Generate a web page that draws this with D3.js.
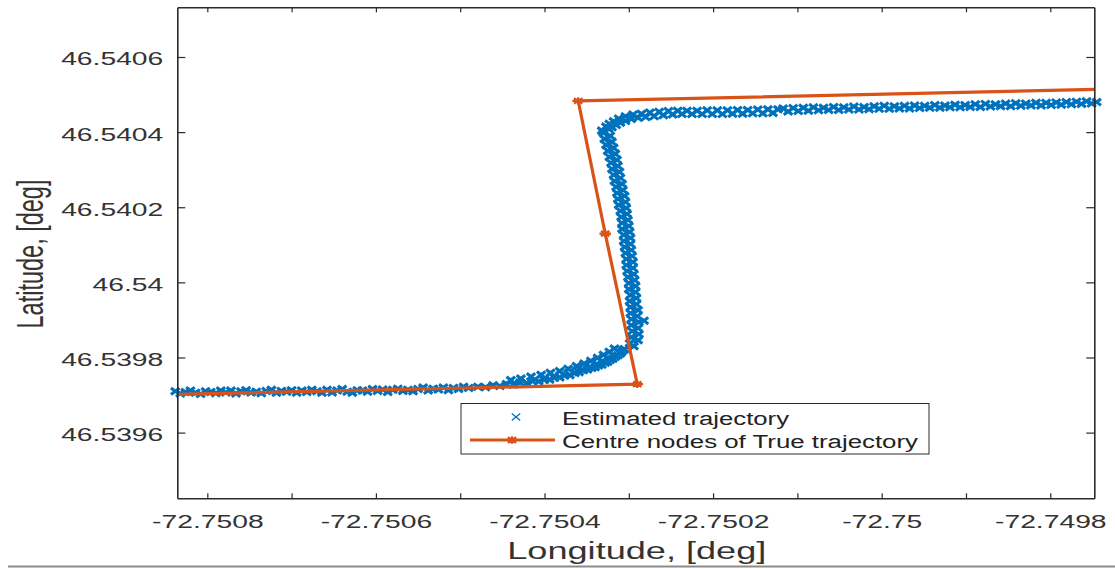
<!DOCTYPE html>
<html>
<head>
<meta charset="utf-8">
<script src="https://cdn.jsdelivr.net/npm/d3@7"></script>
<style>
  body { margin: 0; background: #fff; }
  svg { display: block; }
</style>
</head>
<body>
<svg id="chart" width="1115" height="569"></svg>
<script>
// ---- axis ticks ----
const xTicks = [-72.7508, -72.7507, -72.7506, -72.7505, -72.7504, -72.7503, -72.7502, -72.7501, -72.75, -72.7499, -72.7498];
const xTickLabels = ["-72.7508", "", "-72.7506", "", "-72.7504", "", "-72.7502", "", "-72.75", "", "-72.7498"];
const yTicks = [46.5396, 46.5398, 46.54, 46.5402, 46.5404, 46.5406];
const yTickLabels = ["46.5396", "46.5398", "46.54", "46.5402", "46.5404", "46.5406"];
const xDomain = [-72.7508356, -72.7497478];
const yDomain = [46.5394251, 46.5407323];

// ---- centre nodes of the true trajectory ----
const trueLon = [-72.750868, -72.750290, -72.750328, -72.750360, -72.749682];
const trueLat = [46.539700, 46.539729, 46.540130, 46.540483, 46.540517];

// ---- estimated trajectory [lon, lat] ----
const estWestLeg = [
  [-72.750838,46.539710],[-72.750832,46.539704],[-72.750826,46.539708],[-72.750820,46.539712],[-72.750814,46.539706],
  [-72.750808,46.539703],[-72.750802,46.539710],[-72.750796,46.539708],[-72.750790,46.539705],[-72.750784,46.539712],
  [-72.750778,46.539707],[-72.750772,46.539712],[-72.750766,46.539704],[-72.750760,46.539710],[-72.750754,46.539713],
  [-72.750748,46.539707],[-72.750742,46.539709],[-72.750736,46.539705],[-72.750730,46.539711],[-72.750724,46.539714],
  [-72.750718,46.539706],[-72.750712,46.539711],[-72.750706,46.539709],[-72.750700,46.539713],[-72.750694,46.539706],
  [-72.750688,46.539712],[-72.750682,46.539708],[-72.750676,46.539714],[-72.750670,46.539710],[-72.750664,46.539706],
  [-72.750658,46.539714],[-72.750652,46.539707],[-72.750646,46.539712],[-72.750640,46.539716],[-72.750634,46.539709],
  [-72.750628,46.539706],[-72.750622,46.539713],[-72.750616,46.539712],[-72.750610,46.539709],[-72.750604,46.539716],
  [-72.750598,46.539711],[-72.750592,46.539715],[-72.750586,46.539708],[-72.750580,46.539714],[-72.750574,46.539717],
  [-72.750568,46.539711],[-72.750562,46.539714],[-72.750556,46.539710],[-72.750550,46.539716],[-72.750544,46.539720],
  [-72.750538,46.539712],[-72.750532,46.539717],[-72.750526,46.539715],[-72.750520,46.539720],[-72.750514,46.539713],
  [-72.750508,46.539719],[-72.750502,46.539716],[-72.750496,46.539722],[-72.750490,46.539719]
];
const estFirstTurn = [
  [-72.750479,46.539722],[-72.750470,46.539721],[-72.750461,46.539726],[-72.750453,46.539724],[-72.750445,46.539729],
  [-72.750437,46.539728],[-72.750429,46.539733],[-72.750421,46.539731],[-72.750414,46.539737],[-72.750407,46.539736],
  [-72.750400,46.539741],[-72.750394,46.539741],[-72.750388,46.539746],[-72.750382,46.539747],[-72.750376,46.539752],
  [-72.750370,46.539753],[-72.750364,46.539759],[-72.750359,46.539761],[-72.750354,46.539766],[-72.750349,46.539768],
  [-72.750344,46.539772],[-72.750340,46.539774],[-72.750336,46.539779],[-72.750332,46.539781],[-72.750328,46.539786],
  [-72.750325,46.539789],[-72.750322,46.539794],[-72.750319,46.539797],[-72.750316,46.539802],[-72.750313,46.539806],
  [-72.750310,46.539811],[-72.750308,46.539816],[-72.750306,46.539821],
  [-72.750440,46.539740],[-72.750428,46.539744],[-72.750416,46.539749],[-72.750404,46.539754],[-72.750393,46.539759],
  [-72.750382,46.539764],[-72.750372,46.539770],[-72.750362,46.539777],[-72.750353,46.539784],[-72.750345,46.539791],
  [-72.750337,46.539799],[-72.750330,46.539807],[-72.750323,46.539815],[-72.750317,46.539824]
];
const estNorthLeg = [
  [-72.750305,46.539822],[-72.750294,46.539830],[-72.750299,46.539838],[-72.750289,46.539846],[-72.750297,46.539854],
  [-72.750288,46.539862],[-72.750296,46.539870],[-72.750289,46.539878],[-72.750297,46.539886],[-72.750288,46.539894],
  [-72.750282,46.539898],[-72.750297,46.539902],[-72.750290,46.539910],[-72.750298,46.539918],[-72.750289,46.539926],
  [-72.750298,46.539934],[-72.750291,46.539942],[-72.750299,46.539950],[-72.750291,46.539958],[-72.750298,46.539966],
  [-72.750292,46.539974],[-72.750300,46.539982],[-72.750292,46.539990],[-72.750300,46.539998],[-72.750293,46.540006],
  [-72.750301,46.540014],[-72.750294,46.540022],[-72.750302,46.540030],[-72.750295,46.540038],[-72.750303,46.540046],
  [-72.750295,46.540054],[-72.750303,46.540062],[-72.750296,46.540070],[-72.750304,46.540078],[-72.750297,46.540086],
  [-72.750305,46.540094],[-72.750298,46.540102],[-72.750306,46.540110],[-72.750298,46.540118],[-72.750306,46.540126],
  [-72.750299,46.540134],[-72.750308,46.540142],[-72.750300,46.540150],[-72.750308,46.540158],[-72.750301,46.540166],
  [-72.750309,46.540174],[-72.750302,46.540182],[-72.750310,46.540190],[-72.750303,46.540198],[-72.750312,46.540206],
  [-72.750304,46.540214],[-72.750313,46.540222],[-72.750305,46.540230],[-72.750314,46.540238],[-72.750307,46.540246],
  [-72.750315,46.540254],[-72.750308,46.540262],[-72.750317,46.540270],[-72.750310,46.540278],[-72.750318,46.540286],
  [-72.750311,46.540294],[-72.750320,46.540302],[-72.750313,46.540310],[-72.750321,46.540318],[-72.750314,46.540326],
  [-72.750323,46.540334],[-72.750316,46.540342],[-72.750325,46.540350],[-72.750318,46.540358],[-72.750327,46.540366],
  [-72.750320,46.540374],[-72.750329,46.540382],[-72.750322,46.540390],[-72.750330,46.540398]
];
const estSecondTurn = [
  [-72.750332,46.540404],[-72.750324,46.540409],[-72.750327,46.540415],[-72.750320,46.540413],[-72.750323,46.540422],
  [-72.750315,46.540419],[-72.750318,46.540429],[-72.750310,46.540425],[-72.750312,46.540436],[-72.750304,46.540430],
  [-72.750304,46.540442],[-72.750297,46.540435],[-72.750295,46.540447],[-72.750289,46.540438],[-72.750285,46.540449],
  [-72.750280,46.540440],[-72.750275,46.540452],[-72.750270,46.540442],[-72.750264,46.540454],[-72.750259,46.540445],
  [-72.750253,46.540456],[-72.750248,46.540447],[-72.750242,46.540457],[-72.750237,46.540448],[-72.750231,46.540457],
  [-72.750225,46.540448],[-72.750219,46.540457],[-72.750213,46.540448],[-72.750207,46.540458],[-72.750201,46.540448],
  [-72.750195,46.540458],[-72.750189,46.540448],[-72.750183,46.540458],[-72.750177,46.540449],[-72.750171,46.540459],
  [-72.750165,46.540449],[-72.750159,46.540459],[-72.750153,46.540450],[-72.750147,46.540460],[-72.750141,46.540450],
  [-72.750135,46.540461],[-72.750129,46.540451],[-72.750123,46.540461]
];
const estEastLeg = [
  [-72.750117,46.540463],[-72.750111,46.540455],[-72.750105,46.540464],[-72.750099,46.540456],[-72.750093,46.540465],
  [-72.750087,46.540457],[-72.750081,46.540466],[-72.750075,46.540458],[-72.750069,46.540465],[-72.750063,46.540459],
  [-72.750057,46.540467],[-72.750051,46.540459],[-72.750045,46.540466],[-72.750039,46.540460],[-72.750033,46.540468],
  [-72.750027,46.540460],[-72.750021,46.540467],[-72.750015,46.540461],[-72.750009,46.540469],[-72.750003,46.540462],
  [-72.749997,46.540470],[-72.749991,46.540462],[-72.749985,46.540469],[-72.749979,46.540463],[-72.749973,46.540470],
  [-72.749967,46.540463],[-72.749961,46.540471],[-72.749955,46.540464],[-72.749949,46.540470],[-72.749943,46.540465],
  [-72.749937,46.540472],[-72.749931,46.540465],[-72.749925,46.540471],[-72.749919,46.540466],[-72.749913,46.540473],
  [-72.749907,46.540466],[-72.749901,46.540472],[-72.749895,46.540467],[-72.749889,46.540474],[-72.749883,46.540467],
  [-72.749877,46.540475],[-72.749871,46.540468],[-72.749865,46.540474],[-72.749859,46.540469],[-72.749853,46.540476],
  [-72.749847,46.540469],[-72.749841,46.540477],[-72.749835,46.540470],[-72.749829,46.540476],[-72.749823,46.540471],
  [-72.749817,46.540478],[-72.749811,46.540471],[-72.749805,46.540478],[-72.749799,46.540472],[-72.749793,46.540479],
  [-72.749787,46.540473],[-72.749781,46.540480],[-72.749775,46.540474],[-72.749769,46.540481],[-72.749763,46.540475],
  [-72.749757,46.540482],[-72.749751,46.540476],[-72.749745,46.540480]
];
const estimated = [].concat(estWestLeg, estFirstTurn, estNorthLeg, estSecondTurn, estEastLeg);

// ---- layout & style ----
const plot = { left: 177.3, right: 1094.3, top: 7.3, bottom: 498.3 };
const FONT = '"Liberation Sans", Arial, Helvetica, sans-serif';
const STRETCH = 1.57;           // the figure is rendered horizontally widened
const AXIS_COLOR = "#2b2b2b";
const BLUE = "#0072BD";
const ORANGE = "#D95319";

const svg = d3.select("#chart");
svg.append("rect").attr("width", 1115).attr("height", 569).attr("fill", "#fff");

const x = d3.scaleLinear().domain(xDomain).range([plot.left, plot.right]);
const y = d3.scaleLinear().domain(yDomain).range([plot.bottom, plot.top]);

svg.append("defs").append("clipPath").attr("id", "plot-clip")
  .append("rect")
  .attr("x", plot.left).attr("y", plot.top)
  .attr("width", plot.right - plot.left).attr("height", plot.bottom - plot.top);

// marker shapes (wider than tall, as the figure is widened)
const crossPath = "M-4.3,-3.3L4.3,3.3M-4.3,3.3L4.3,-3.3";
const legendCross = "M-4.2,-3.5L4.2,3.5M-4.2,3.5L4.2,-3.5";
const starPath = "M0,-3.8V3.8M-5.8,0H5.8M-4.2,-2.7L4.2,2.7M-4.2,2.7L4.2,-2.7";

// ---- estimated trajectory markers ----
svg.append("g").attr("class", "estimated")
  .selectAll("path").data(estimated).join("path")
  .attr("transform", d => `translate(${x(d[0])},${y(d[1])})`)
  .attr("d", crossPath)
  .attr("fill", "none")
  .attr("stroke", BLUE)
  .attr("stroke-width", 3.1);

// ---- true trajectory nodes ----
const trueNodes = trueLon.map((lon, i) => [lon, trueLat[i]]);
const trueG = svg.append("g").attr("clip-path", "url(#plot-clip)");
trueG.append("path")
  .datum(trueNodes)
  .attr("d", d3.line().x(d => x(d[0])).y(d => y(d[1])))
  .attr("fill", "none")
  .attr("stroke", ORANGE)
  .attr("stroke-width", 3.2)
  .attr("stroke-linejoin", "round");
trueG.selectAll("path.node").data(trueNodes).join("path")
  .attr("class", "node")
  .attr("transform", d => `translate(${x(d[0])},${y(d[1])})`)
  .attr("d", starPath)
  .attr("fill", "none")
  .attr("stroke", ORANGE)
  .attr("stroke-width", 2.2);

// ---- axes (box with inward ticks) ----
function styleAxis(g) {
  g.attr("font-family", FONT).attr("font-size", 18);
  g.select(".domain").attr("stroke", AXIS_COLOR).attr("stroke-width", 1.6);
  g.selectAll(".tick line").attr("stroke", AXIS_COLOR).attr("stroke-width", 1.2);
  g.selectAll(".tick text").attr("fill", "#333");
}
function widen(sel) {
  sel.each(function () {
    const w = this.getComputedTextLength();
    if (w > 0) d3.select(this).attr("textLength", w * STRETCH).attr("lengthAdjust", "spacingAndGlyphs");
  });
}

const gxb = svg.append("g").attr("transform", `translate(0,${plot.bottom})`)
  .call(d3.axisBottom(x).tickValues(xTicks).tickFormat((d, i) => xTickLabels[i])
    .tickSizeInner(-5).tickSizeOuter(0).tickPadding(17));
styleAxis(gxb);
gxb.selectAll(".tick text").call(widen);

const gxt = svg.append("g").attr("transform", `translate(0,${plot.top})`)
  .call(d3.axisTop(x).tickValues(xTicks).tickFormat("").tickSizeInner(-5).tickSizeOuter(0));
styleAxis(gxt);

const gyl = svg.append("g").attr("transform", `translate(${plot.left},0)`)
  .call(d3.axisLeft(y).tickValues(yTicks).tickFormat((d, i) => yTickLabels[i])
    .tickSizeInner(-8).tickSizeOuter(0).tickPadding(14));
styleAxis(gyl);
gyl.selectAll(".tick text").attr("dy", "0.44em").call(widen);

const gyr = svg.append("g").attr("transform", `translate(${plot.right},0)`)
  .call(d3.axisRight(y).tickValues(yTicks).tickFormat("").tickSizeInner(-8).tickSizeOuter(0));
styleAxis(gyr);

// ---- axis titles ----
svg.append("text")
  .attr("x", (plot.left + plot.right) / 2 + 1).attr("y", 559)
  .attr("text-anchor", "middle")
  .attr("font-family", FONT).attr("font-size", 23).attr("fill", "#333")
  .text("Longitude, [deg]")
  .call(widen);

svg.append("text")
  .attr("transform", `translate(43,254) scale(${STRETCH},1) rotate(-90)`)
  .attr("text-anchor", "middle")
  .attr("font-family", FONT).attr("font-size", 23.5).attr("fill", "#333")
  .text("Latitude, [deg]");

// ---- legend ----
const legend = svg.append("g");
legend.append("rect")
  .attr("x", 461).attr("y", 403.5).attr("width", 468).attr("height", 50.5)
  .attr("fill", "#fff").attr("stroke", AXIS_COLOR).attr("stroke-width", 1);
legend.append("path")
  .attr("transform", "translate(516,417)")
  .attr("d", legendCross).attr("fill", "none").attr("stroke", BLUE).attr("stroke-width", 1.3);
legend.append("line")
  .attr("x1", 470).attr("x2", 555).attr("y1", 440).attr("y2", 440)
  .attr("stroke", ORANGE).attr("stroke-width", 3.2);
legend.append("path")
  .attr("transform", "translate(512,440)")
  .attr("d", starPath).attr("fill", "none").attr("stroke", ORANGE).attr("stroke-width", 2.2);
legend.append("text")
  .attr("x", 562).attr("y", 425)
  .attr("font-family", FONT).attr("font-size", 18).attr("fill", "#222")
  .attr("textLength", 227).attr("lengthAdjust", "spacingAndGlyphs")
  .text("Estimated trajectory");
legend.append("text")
  .attr("x", 562).attr("y", 447.5)
  .attr("font-family", FONT).attr("font-size", 18).attr("fill", "#222")
  .attr("textLength", 356).attr("lengthAdjust", "spacingAndGlyphs")
  .text("Centre nodes of True trajectory");

// ---- rule along the bottom of the figure ----
svg.append("line")
  .attr("x1", 8).attr("x2", 1115).attr("y1", 566.5).attr("y2", 566.5)
  .attr("stroke", "#8c8c8c").attr("stroke-width", 2);
</script>
</body>
</html>
